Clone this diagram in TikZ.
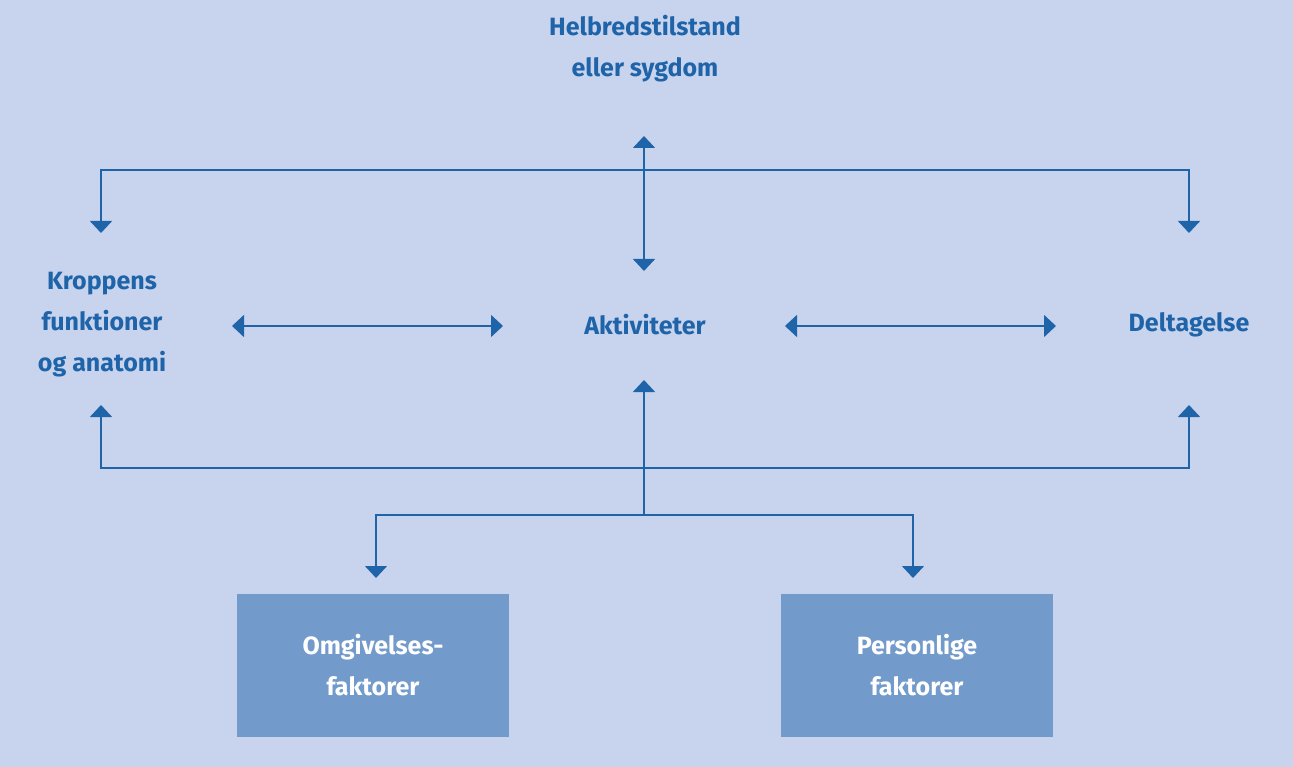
\documentclass[tikz,border=0pt]{standalone}
\usepackage{fontspec}
\setmainfont{Fira Sans}
\usetikzlibrary{arrows.meta}
\definecolor{bg}{HTML}{C8D4EE}
\definecolor{bl}{HTML}{1F63A8}
\definecolor{bx}{HTML}{729BCC}
\begin{document}
\begin{tikzpicture}[x=1pt,y=-1pt,
  lab/.style={text=bl,font=\fontsize{25}{41}\selectfont\bfseries,align=center},
  ln/.style={draw=bl,line width=1.6pt,-{Triangle[width=22pt,length=12pt]}},
  ln2/.style={ln,{Triangle[width=22pt,length=12pt]}-{Triangle[width=22pt,length=12pt]}},
  pl/.style={draw=bl,line width=1.6pt},
  bxs/.style={fill=bx,text=white,minimum width=272pt,minimum height=143pt,font=\fontsize{25}{41}\selectfont\bfseries,align=center}]
\fill[bg] (0,0) rectangle (1293,767);
\useasboundingbox (0,0) rectangle (1293,767);
\node[lab] (h) at (645,49) {Helbredstilstand\\eller sygdom};
\node[lab] (k) at (102,325) {Kroppens\\funktioner\\og anatomi};
\node[lab] (a) at (645,325) {Aktiviteter};
\node[lab] (d) at (1189,325) {Deltagelse};
\node[bxs] (o) at (373,665.5) {Omgivelses-\\faktorer};
\node[bxs] (p) at (917,665.5) {Personlige\\faktorer};
\coordinate (ht) at (644,136);
\coordinate (hb) at (644,271);
\coordinate (tl) at (101,170); \coordinate (tr) at (1189,170);
\coordinate (tm) at (644,170);
\draw[ln2] (ht) -- (hb);
\draw[ln] (tm) -- (tl) -- (101,233);
\draw[ln] (tm) -- (tr) -- (1189,233);
\draw[ln2] (232,326) -- (503,326);
\draw[ln2] (785,326) -- (1056,326);
\coordinate (bl) at (101,468); \coordinate (br) at (1189,468); \coordinate (bm) at (644,468);
\draw[ln] (bm) -- (bl) -- (101,405);
\draw[ln] (bm) -- (br) -- (1189,405);
\coordinate (jm) at (644,515);
\draw[ln] (jm) -- (644,380);
\draw[ln] (jm) -- (376,515) -- (376,578);
\draw[ln] (jm) -- (913,515) -- (913,578);
\end{tikzpicture}
\end{document}
